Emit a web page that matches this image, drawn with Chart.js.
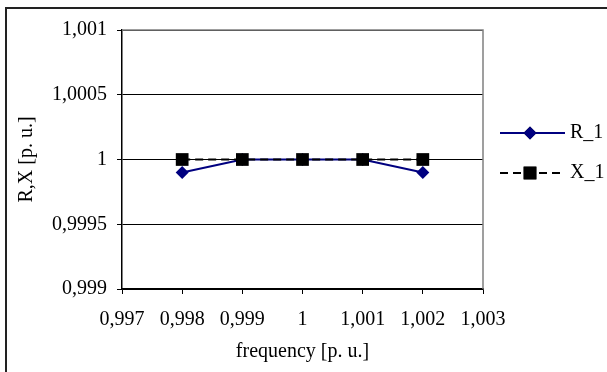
<!DOCTYPE html>
<html>
<head>
<meta charset="utf-8">
<script src="https://cdn.jsdelivr.net/npm/chart.js@4"></script>
<style>
  html, body { margin: 0; padding: 0; background: #fff; }
  #wrap { width: 607px; height: 372px; }
</style>
</head>
<body>
<div id="wrap"><canvas id="chart" width="607" height="372"></canvas></div>
<script>
// frequency points and the two series
const freq = [0.998, 0.999, 1, 1.001, 1.002];
const r1 = [0.9999, 1, 1, 1, 0.9999];
const x1 = [1, 1, 1, 1, 1];

const xTicks = [0.997, 0.998, 0.999, 1, 1.001, 1.002, 1.003];
const yTicks = [0.999, 0.9995, 1, 1.0005, 1.001];

const FONT = 'Liberation Serif';
const SIZE = 20;

// decimal comma like the spreadsheet
function fmt(v) {
  return String(Number(v.toFixed(4))).replace('.', ',');
}

const frame = {
  id: 'frame',
  beforeDraw(chart) {
    const ctx = chart.ctx;
    ctx.save();
    ctx.fillStyle = '#fff';
    ctx.fillRect(0, 0, chart.width, chart.height);
    ctx.restore();
  },
  afterDatasetsDraw(chart) {
    const { ctx, chartArea: a } = chart;
    ctx.save();
    // outer chart border (only left and top fit in the canvas)
    ctx.strokeStyle = '#222';
    ctx.lineWidth = 2;
    ctx.beginPath();
    ctx.moveTo(6, chart.height + 2);
    ctx.lineTo(6, 8);
    ctx.lineTo(chart.width + 2, 8);
    ctx.stroke();

    // gray plot frame on the right
    ctx.strokeStyle = '#808080';
    ctx.lineWidth = 1.5;
    ctx.beginPath();
    ctx.moveTo(a.left, a.top);
    ctx.lineTo(a.right, a.top);
    ctx.lineTo(a.right, a.bottom);
    ctx.stroke();

    // legend
    const items = [
      { label: 'R_1', ds: chart.data.datasets[0], y: 133 },
      { label: 'X_1', ds: chart.data.datasets[1], y: 173 }
    ];
    items.forEach(it => {
      ctx.strokeStyle = it.ds.borderColor;
      ctx.lineWidth = it.ds.borderWidth;
      ctx.setLineDash(it.ds.borderDash || []);
      ctx.beginPath();
      ctx.moveTo(500, it.y);
      ctx.lineTo(565, it.y);
      ctx.stroke();
      ctx.setLineDash([]);
      Chart.helpers.drawPoint(ctx, {
        pointStyle: it.ds.pointStyle,
        radius: it.ds.pointRadius,
        borderWidth: 0
      }, 530, it.y);
      ctx.fillStyle = it.ds.pointBackgroundColor;
      ctx.fill();
      ctx.fillStyle = '#000';
      ctx.font = SIZE + 'px "' + FONT + '"';
      ctx.textBaseline = 'middle';
      ctx.textAlign = 'left';
      ctx.fillText(it.label, 570, it.y);
    });
    ctx.restore();
  }
};

new Chart(document.getElementById('chart'), {
  type: 'line',
  data: {
    datasets: [
      {
        label: 'R_1',
        data: freq.map((f, i) => ({ x: f, y: r1[i] })),
        borderColor: '#000080',
        borderWidth: 2,
        pointStyle: 'rectRot',
        pointRadius: 6.5,
        pointBackgroundColor: '#000080',
        pointBorderWidth: 0,
        tension: 0,
        order: 2
      },
      {
        label: 'X_1',
        data: freq.map((f, i) => ({ x: f, y: x1[i] })),
        borderColor: '#000',
        borderWidth: 2,
        borderDash: [8, 5],
        pointStyle: 'rect',
        pointRadius: 9,
        pointBackgroundColor: '#000',
        pointBorderWidth: 0,
        tension: 0,
        order: 1
      }
    ]
  },
  options: {
    responsive: false,
    animation: false,
    layout: { padding: { left: 0, top: 30, right: 124, bottom: 0 } },
    plugins: {
      legend: { display: false },
      tooltip: { enabled: false }
    },
    scales: {
      x: {
        type: 'linear',
        min: 0.997,
        max: 1.003,
        afterBuildTicks: s => { s.ticks = xTicks.map(v => ({ value: v })); },
        afterFit: s => { s.height = 83; },
        grid: {
          drawOnChartArea: false,
          color: '#000',
          tickLength: 5
        },
        border: { color: '#000', width: 1.5 },
        ticks: {
          color: '#000',
          padding: 14,
          maxRotation: 0,
          autoSkip: false,
          font: { family: FONT, size: SIZE },
          callback: v => fmt(v)
        },
        title: {
          display: true,
          text: 'frequency [p. u.]',
          color: '#000',
          font: { family: FONT, size: SIZE },
          padding: { top: 0, bottom: 8 }
        }
      },
      y: {
        min: 0.999,
        max: 1.001,
        afterBuildTicks: s => { s.ticks = yTicks.map(v => ({ value: v })); },
        afterFit: s => { s.width = 122; },
        grid: {
          color: '#000',
          lineWidth: 1,
          tickLength: 5
        },
        border: { color: '#000', width: 1.5 },
        ticks: {
          color: '#000',
          padding: 10,
          font: { family: FONT, size: SIZE },
          callback: v => fmt(v)
        },
        title: {
          display: true,
          text: 'R,X [p. u.]',
          color: '#000',
          font: { family: FONT, size: SIZE },
          padding: { top: 15, bottom: 0 }
        }
      }
    }
  },
  plugins: [frame]
});
</script>
</body>
</html>
